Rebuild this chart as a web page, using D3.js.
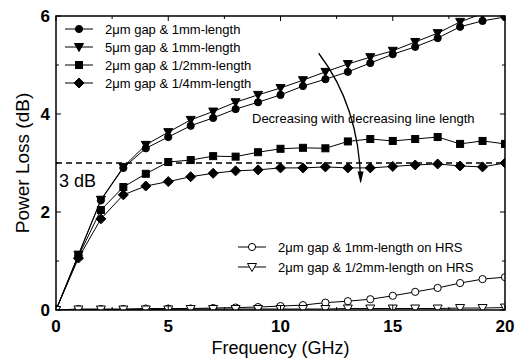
<!DOCTYPE html>
<html><head><meta charset="utf-8">
<script src="https://cdn.jsdelivr.net/npm/d3@7"></script>
<style>body{margin:0;background:#fff}svg{display:block}text{font-family:"Liberation Sans",Arial,sans-serif}</style>
</head><body><svg id="c" width="521" height="360"></svg>
<script>
const freq = [0,1,2,3,4,5,6,7,8,9,10,11,12,13,14,15,16,17,18,19,20];
const s2um1mm   = [0,1.12,2.24,2.9,3.3,3.53,3.76,3.92,4.1,4.24,4.39,4.57,4.71,4.86,5.04,5.22,5.37,5.55,5.78,5.9,5.98];
const s5um1mm   = [0,1.13,2.25,2.92,3.37,3.63,3.88,4.05,4.24,4.39,4.53,4.69,4.86,5.02,5.16,5.29,5.47,5.65,5.88,6.05,6.2];
const s2umHalf  = [0,1.1,2.04,2.51,2.78,3.02,3.06,3.14,3.13,3.22,3.29,3.31,3.3,3.44,3.49,3.45,3.49,3.53,3.39,3.45,3.39];
const s2umQuart = [0,1.06,1.86,2.35,2.53,2.62,2.72,2.79,2.84,2.86,2.9,2.9,2.92,2.9,2.9,2.93,2.96,2.98,2.94,2.92,3.0];
const hrs1mm    = [0,0.02,0.02,0.02,0.03,0.03,0.03,0.04,0.05,0.06,0.08,0.1,0.15,0.18,0.22,0.29,0.37,0.45,0.55,0.63,0.67];
const hrsHalf   = [0,0.01,0.01,0.01,0.01,0.01,0.02,0.02,0.02,0.02,0.02,0.02,0.02,0.03,0.03,0.03,0.03,0.03,0.04,0.04,0.05];
const xTicks = [0,5,10,15,20];
const yTicks = [0,2,4,6];
const labels = ["2\u03bcm gap & 1mm-length","5\u03bcm gap & 1mm-length","2\u03bcm gap & 1/2mm-length","2\u03bcm gap & 1/4mm-length","2\u03bcm gap & 1mm-length on HRS","2\u03bcm gap & 1/2mm-length on HRS"];

const W=521,H=360,m={l:56,r:16,t:16,b:50};
const svg=d3.select("#c");
const x=d3.scaleLinear().domain([0,20]).range([m.l,W-m.r]);
const y=d3.scaleLinear().domain([0,6]).range([H-m.b,m.t]);

svg.append("defs").append("clipPath").attr("id","clip").append("rect")
  .attr("x",m.l).attr("y",m.t).attr("width",W-m.l-m.r).attr("height",H-m.t-m.b);

const series=[
 {v:s2um1mm,sym:"circle",fill:"#000"},
 {v:s5um1mm,sym:"tri",fill:"#000"},
 {v:s2umHalf,sym:"square",fill:"#000"},
 {v:s2umQuart,sym:"diamond",fill:"#000"},
 {v:hrs1mm,sym:"circle",fill:"#fff"},
 {v:hrsHalf,sym:"tri",fill:"#fff"}
];
function marker(g,sym,cx,cy,fill){
  let e;
  if(sym==="circle") e=g.append("circle").attr("cx",cx).attr("cy",cy).attr("r",3.6);
  else if(sym==="square") e=g.append("rect").attr("x",cx-3.5).attr("y",cy-3.5).attr("width",7).attr("height",7);
  else if(sym==="tri") e=g.append("path").attr("d",`M${cx-4.5},${cy-3.5}L${cx+4.5},${cy-3.5}L${cx},${cy+4.5}Z`);
  else if(sym==="diamond") e=g.append("path").attr("d",`M${cx},${cy-5}L${cx+5},${cy}L${cx},${cy+5}L${cx-5},${cy}Z`);
  e.attr("fill",fill).attr("stroke","#000").attr("stroke-width",1);
}

// 3 dB line
svg.append("line").attr("x1",x(0)).attr("x2",x(20)).attr("y1",y(3)).attr("y2",y(3))
  .attr("stroke","#000").attr("stroke-width",1.5).attr("stroke-dasharray","6,4");

const dg=svg.append("g").attr("clip-path","url(#clip)");
const line=d3.line().x((d,i)=>x(freq[i])).y(d=>y(d));
series.forEach(s=>{
  dg.append("path").attr("d",line(s.v)).attr("fill","none").attr("stroke","#000").attr("stroke-width",1);
});
series.forEach(s=>{
  s.v.forEach((v,i)=>marker(dg,s.sym,x(freq[i]),y(v),s.fill));
});

// axes frame
const ax=svg.append("g");
const sw=1.5;
ax.append("rect").attr("x",m.l).attr("y",m.t).attr("width",W-m.l-m.r).attr("height",H-m.t-m.b)
  .attr("fill","none").attr("stroke","#000").attr("stroke-width",sw);
const xmin=d3.range(0,20.01,2.5), ymin=d3.range(0,6.01,1);
xmin.forEach(t=>{
  const L=(t%5===0)?5:3;
  ax.append("line").attr("x1",x(t)).attr("x2",x(t)).attr("y1",y(0)).attr("y2",y(0)-L).attr("stroke","#000").attr("stroke-width",1);
  ax.append("line").attr("x1",x(t)).attr("x2",x(t)).attr("y1",y(6)).attr("y2",y(6)+L).attr("stroke","#000").attr("stroke-width",1);
});
ymin.forEach(t=>{
  const L=(t%2===0)?5:3;
  ax.append("line").attr("x1",x(0)).attr("x2",x(0)+L).attr("y1",y(t)).attr("y2",y(t)).attr("stroke","#000").attr("stroke-width",1);
  ax.append("line").attr("x1",x(20)).attr("x2",x(20)-L).attr("y1",y(t)).attr("y2",y(t)).attr("stroke","#000").attr("stroke-width",1);
});
xTicks.forEach(t=>{
  ax.append("text").attr("x",x(t)).attr("y",y(0)+22).attr("text-anchor","middle")
    .attr("font-size",17).attr("font-weight","bold").text(t);
});
yTicks.forEach(t=>{
  ax.append("text").attr("x",x(0)-6).attr("y",y(t)+6).attr("text-anchor","end")
    .attr("font-size",17).attr("font-weight","bold").text(t);
});
svg.append("text").attr("x",(x(0)+x(20))/2).attr("y",354).attr("text-anchor","middle").attr("font-size",18).text("Frequency (GHz)");
svg.append("text").attr("transform",`translate(29,${(y(0)+y(6))/2}) rotate(-90)`).attr("text-anchor","middle").attr("font-size",19).text("Power Loss (dB)");

function legendItem(lx,ly,sym,fill,label){
  svg.append("line").attr("x1",lx).attr("x2",lx+28).attr("y1",ly).attr("y2",ly).attr("stroke","#000").attr("stroke-width",1);
  marker(svg,sym,lx+14,ly,fill);
  svg.append("text").attr("x",lx+40).attr("y",ly+4.5).attr("font-size",13).text(label);
}
[0,1,2,3].forEach(i=>legendItem(65,29+i*18,series[i].sym,series[i].fill,labels[i]));
[4,5].forEach((i,k)=>legendItem(238,247+k*20,series[i].sym,series[i].fill,labels[i]));

svg.append("text").attr("x",59).attr("y",y(3)+24).attr("font-size",18).text("3 dB");
svg.append("text").attr("x",252).attr("y",123).attr("font-size",13).text("Decreasing with decreasing line length");
const a0=[11.7,5.24], ac=[13.5,4.16], a1=[13.57,2.62];
svg.append("path").attr("d",`M${x(a0[0])},${y(a0[1])}Q${x(ac[0])},${y(ac[1])} ${x(a1[0])},${y(a1[1])}`)
  .attr("fill","none").attr("stroke","#000").attr("stroke-width",1.3);
const tx=x(a1[0]), ty=y(a1[1]);
svg.append("path").attr("d",`M${tx-3},${ty-10}L${tx},${ty+2}L${tx+3},${ty-10}Z`).attr("fill","#000");
</script></body></html>
